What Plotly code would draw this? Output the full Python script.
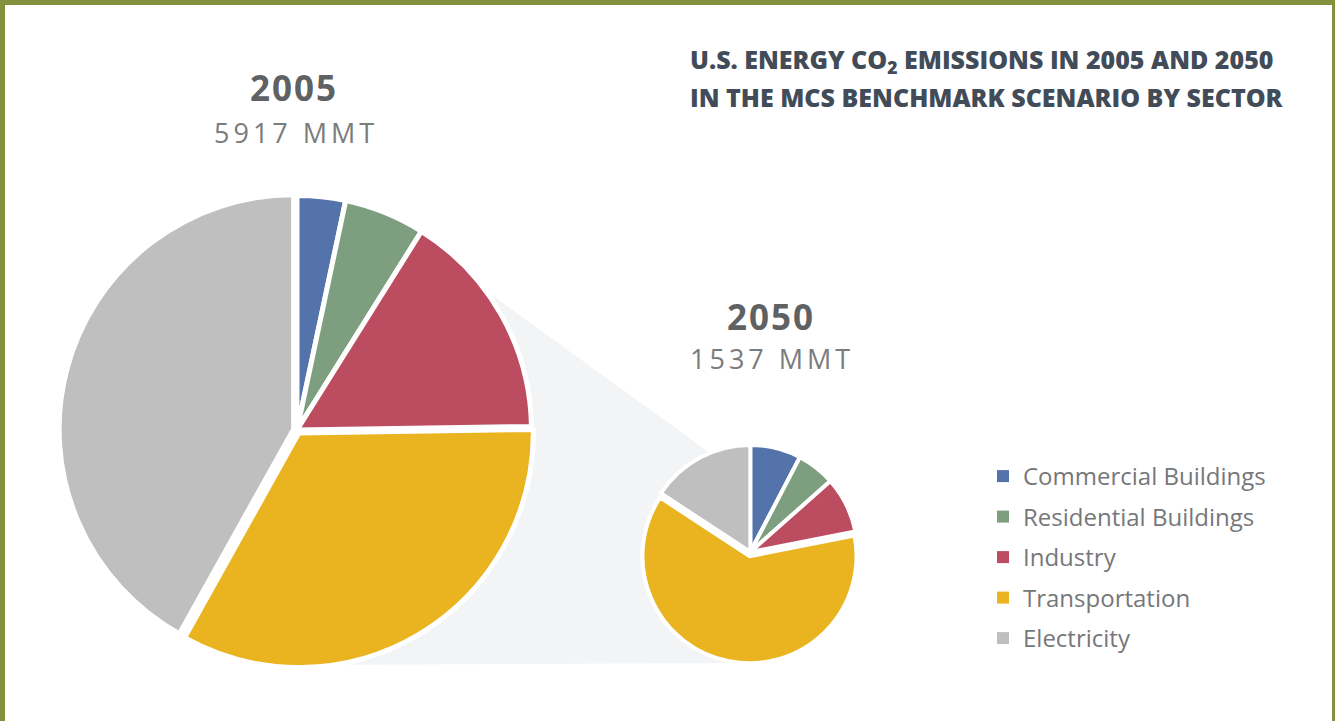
import plotly.graph_objects as go

# ---- data ----
sectors = ["Commercial Buildings", "Residential Buildings", "Industry", "Transportation", "Electricity"]
values_2005 = [197, 330, 938, 1973, 2479]
values_2050 = [118, 89, 130, 958, 242]
total_2005 = 5917
total_2050 = 1537
colors = ["#5573ab", "#7e9f7f", "#bc4d60", "#eab320", "#bfbfbf"]

W, H = 1335, 721


def px(x, y):
    return x / W, 1 - y / H


def dom(cx, cy, half):
    return dict(x=[(cx - half) / W, (cx + half) / W],
                y=[1 - (cy + half) / H, 1 - (cy - half) / H])


fig = go.Figure()

# big pie (2005)
fig.add_trace(go.Pie(
    labels=sectors, values=values_2005, sort=False, direction="clockwise", rotation=0,
    marker=dict(colors=colors, line=dict(color="white", width=5)),
    pull=[0, 0, 0, 0.015, 0.015], textinfo="none", hoverinfo="label+value",
    domain=dom(297, 430, 238), showlegend=False,
))
# small pie (2050)
fig.add_trace(go.Pie(
    labels=sectors, values=values_2050, sort=False, direction="clockwise", rotation=0,
    marker=dict(colors=colors, line=dict(color="white", width=4)),
    pull=[0, 0, 0, 0.04, 0], textinfo="none", hoverinfo="label+value",
    domain=dom(750.3, 552, 111.3), showlegend=False,
))

# legend entries
for s, c in zip(sectors, colors):
    fig.add_trace(go.Scatter(x=[None], y=[None], mode="markers", name=s,
                             legendgroup=s,
                             marker=dict(symbol="square", size=12, color=c)))

# connector polygon (behind pies)
pts = [(297, 430), (440, 257.4), (740, 474.7), (750, 552), (745, 663), (297, 665)]
path = "M " + " L ".join(f"{px(x, y)[0]:.5f},{px(x, y)[1]:.5f}" for x, y in pts) + " Z"

shapes = [
    dict(type="path", xref="paper", yref="paper", path=path,
         fillcolor="#f3f4f6", line=dict(width=0), layer="below"),
    # olive frame
    dict(type="rect", xref="paper", yref="paper", x0=0, x1=1, y0=1 - 5 / H, y1=1,
         fillcolor="#83913c", line=dict(width=0), layer="above"),
    dict(type="rect", xref="paper", yref="paper", x0=0, x1=5 / W, y0=0, y1=1,
         fillcolor="#83913c", line=dict(width=0), layer="above"),
    dict(type="rect", xref="paper", yref="paper", x0=1332 / W, x1=1, y0=0, y1=1,
         fillcolor="#83913c", line=dict(width=0), layer="above"),
]

FONT = "Open Sans"
title_font = dict(family=FONT, size=25, color="#424c58", weight=800)
annotations = [
    dict(text="<span style='letter-spacing:2px'><b>2005</b></span>", x=294 / W, y=1 - 88 / H,
         xref="paper", yref="paper",
         showarrow=False, font=dict(family=FONT, size=35, color="#606162"),
         xanchor="center", yanchor="middle"),
    dict(text=f"<span style='letter-spacing:4px'>{total_2005} MMT</span>", x=296 / W, y=1 - 132 / H,
         xref="paper", yref="paper", showarrow=False,
         font=dict(family=FONT, size=27, color="#7b7c7e"), xanchor="center", yanchor="middle"),
    dict(text="<span style='letter-spacing:2px'><b>2050</b></span>", x=771 / W, y=1 - 316 / H,
         xref="paper", yref="paper",
         showarrow=False, font=dict(family=FONT, size=35, color="#606162"),
         xanchor="center", yanchor="middle"),
    dict(text=f"<span style='letter-spacing:4px'>{total_2050} MMT</span>", x=772 / W, y=1 - 358 / H,
         xref="paper", yref="paper", showarrow=False,
         font=dict(family=FONT, size=27, color="#7b7c7e"), xanchor="center", yanchor="middle"),
    dict(text="U.S. ENERGY CO<sub>2</sub> EMISSIONS IN 2005 AND 2050",
         x=688 / W, y=1 - 61 / H, xref="paper", yref="paper", showarrow=False,
         align="left", xanchor="left", yanchor="middle", font=title_font),
    dict(text="IN THE MCS BENCHMARK SCENARIO BY SECTOR",
         x=688 / W, y=1 - 97 / H, xref="paper", yref="paper", showarrow=False,
         align="left", xanchor="left", yanchor="middle", font=title_font),
]

fig.update_layout(
    width=W, height=H, margin=dict(l=0, r=0, t=0, b=0),
    paper_bgcolor="white", plot_bgcolor="rgba(0,0,0,0)",
    xaxis=dict(visible=False), yaxis=dict(visible=False),
    shapes=shapes, annotations=annotations,
    legend=dict(x=983 / W, y=1 - 454 / H, xanchor="left", yanchor="top",
                traceorder="grouped", tracegroupgap=6.3,
                font=dict(family=FONT, size=24, color="#76777a"),
                bgcolor="rgba(0,0,0,0)"),
    showlegend=True,
)

fig.write_html("out.html", config={"displayModeBar": False},
               post_script="document.body.style.margin='0';")
